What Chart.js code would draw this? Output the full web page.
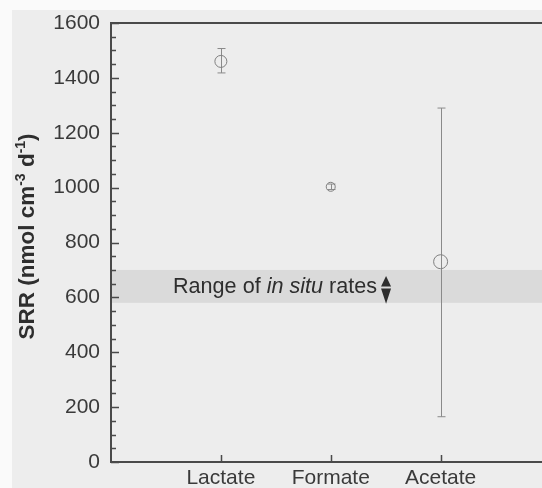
<!DOCTYPE html>
<html>
<head>
<meta charset="utf-8">
<script src="https://cdn.jsdelivr.net/npm/chart.js@4.4.1/dist/chart.umd.min.js"></script>
<style>
  html, body { margin: 0; padding: 0; background: #ededed; }
  #wrap { width: 542px; height: 488px; }
</style>
</head>
<body>
<div id="wrap"><canvas id="myChart" width="542" height="488"></canvas></div>
<script>
// data
const substrates = ['Lactate', 'Formate', 'Acetate'];
const srrMean = [1460, 1003, 730];
const srrLow = [1418, 993, 165];
const srrHigh = [1507, 1013, 1290];
const markerSize = [6, 4.5, 7];
const inSituLow = 580;
const inSituHigh = 700;
const yTickLabels = [0, 200, 400, 600, 800, 1000, 1200, 1400, 1600];

const FONT = '"Liberation Sans", Arial, sans-serif';
const AXIS = '#4a4a4a';

const ctx = document.getElementById('myChart');

const figurePlugin = {
  id: 'figure',
  beforeDraw(chart) {
    const c = chart.ctx;
    c.save();
    c.fillStyle = '#ededed';
    c.fillRect(0, 0, chart.width, chart.height);
    c.fillStyle = '#fafafa';
    c.fillRect(0, 0, chart.width, 10);
    c.fillRect(0, 0, 12, chart.height);
    c.restore();
  },
  beforeDatasetsDraw(chart) {
    const c = chart.ctx;
    const a = chart.chartArea;
    const x = chart.scales.x, y = chart.scales.y;
    c.save();
    // in situ band
    const yHi = y.getPixelForValue(inSituHigh);
    const yLo = y.getPixelForValue(inSituLow);
    c.fillStyle = '#dadada';
    c.fillRect(a.left, yHi, chart.width - a.left, yLo - yHi);

    // band label
    const mid = (yHi + yLo) / 2 + 1;
    c.fillStyle = '#2e2e2e';
    c.textBaseline = 'middle';
    let tx = a.left + 62;
    c.font = '21.6px ' + FONT;
    c.fillText('Range of ', tx, mid);
    tx += c.measureText('Range of ').width;
    c.font = 'italic 21.6px ' + FONT;
    c.fillText('in situ', tx, mid);
    tx += c.measureText('in situ').width;
    c.font = '21.6px ' + FONT;
    c.fillText(' rates', tx, mid);
    tx += c.measureText(' rates').width + 9;
    // double arrow
    c.beginPath();
    c.moveTo(tx, yHi + 6); c.lineTo(tx - 5, mid - 1); c.lineTo(tx + 5, mid - 1); c.closePath();
    c.moveTo(tx, yLo + 1); c.lineTo(tx - 5, mid + 1); c.lineTo(tx + 5, mid + 1); c.closePath();
    c.fill();

    // error bars
    c.strokeStyle = '#8a8a8a';
    c.lineWidth = 1;
    substrates.forEach((s, i) => {
      const px = Math.round(x.getPixelForValue(i + 1)) + 0.5;
      const pLo = y.getPixelForValue(srrLow[i]);
      const pHi = y.getPixelForValue(srrHigh[i]);
      c.beginPath();
      c.moveTo(px, pLo); c.lineTo(px, pHi);
      c.moveTo(px - 4, pLo); c.lineTo(px + 4, pLo);
      c.moveTo(px - 4, pHi); c.lineTo(px + 4, pHi);
      c.stroke();
    });
    c.restore();
  },
  afterDraw(chart) {
    const c = chart.ctx;
    const a = chart.chartArea;
    const x = chart.scales.x, y = chart.scales.y;
    c.save();
    c.strokeStyle = AXIS;
    c.lineWidth = 2;
    // frame: left, bottom, top
    c.beginPath();
    c.moveTo(chart.width, a.top); c.lineTo(a.left, a.top);
    c.lineTo(a.left, a.bottom); c.lineTo(chart.width, a.bottom);
    c.stroke();
    // inward ticks on y
    c.lineWidth = 1.5;
    c.beginPath();
    for (let v = 0; v <= 1600; v += 50) {
      const py = Math.round(y.getPixelForValue(v)) + 0.5;
      const len = v % 200 === 0 ? 8 : 5;
      c.moveTo(a.left, py); c.lineTo(a.left + len, py);
    }
    // ticks on x
    substrates.forEach((s, i) => {
      const px = Math.round(x.getPixelForValue(i + 1)) + 0.5;
      c.moveTo(px, a.bottom); c.lineTo(px, a.bottom - 7);
    });
    c.stroke();

    // y title with superscripts
    c.translate(28, (a.top + a.bottom) / 2 - 6);
    c.rotate(-Math.PI / 2);
    c.fillStyle = '#2e2e2e';
    c.textBaseline = 'middle';
    const parts = [['SRR (nmol cm', 0], ['-3', 1], [' d', 0], ['-1', 1], [')', 0]];
    const big = 'bold 22.5px ' + FONT, small = 'bold 14px ' + FONT;
    let w = 0;
    parts.forEach(p => { c.font = p[1] ? small : big; w += c.measureText(p[0]).width; });
    let tx = -w / 2;
    parts.forEach(p => {
      c.font = p[1] ? small : big;
      c.fillText(p[0], tx, p[1] ? -7 : 0);
      tx += c.measureText(p[0]).width;
    });
    c.restore();
  }
};

new Chart(ctx, {
  type: 'scatter',
  data: {
    datasets: [{
      data: substrates.map((s, i) => ({x: i + 1, y: srrMean[i]})),
      pointRadius: markerSize,
      pointHoverRadius: markerSize,
      pointBackgroundColor: 'rgba(0,0,0,0)',
      pointBorderColor: '#808080',
      pointBorderWidth: 1
    }]
  },
  options: {
    responsive: false,
    animation: false,
    events: [],
    layout: { padding: { top: 23, right: 0, bottom: 0, left: 0 } },
    plugins: { legend: { display: false }, tooltip: { enabled: false } },
    scales: {
      x: {
        type: 'linear',
        min: 0,
        max: 3.85,
        afterFit(scale) { scale.height = 26; scale.paddingLeft = 0; scale.paddingRight = 0; },
        afterBuildTicks(scale) { scale.ticks = substrates.map((s, i) => ({value: i + 1})); },
        ticks: {
          autoSkip: false,
          maxRotation: 0,
          padding: 4,
          color: '#3a3a3a',
          font: { family: FONT, size: 21 },
          callback: v => substrates[v - 1] || ''
        },
        grid: { display: false, drawTicks: false },
        border: { display: false }
      },
      y: {
        min: 0,
        max: 1600,
        afterFit(scale) { scale.width = 111; scale.paddingTop = 0; scale.paddingBottom = 0; },
        afterBuildTicks(scale) { scale.ticks = yTickLabels.map(v => ({value: v})); },
        ticks: {
          padding: 11,
          color: '#3a3a3a',
          font: { family: FONT, size: 21 },
          callback: v => String(v)
        },
        grid: { display: false, drawTicks: false },
        border: { display: false }
      }
    }
  },
  plugins: [figurePlugin]
});
</script>
</body>
</html>
